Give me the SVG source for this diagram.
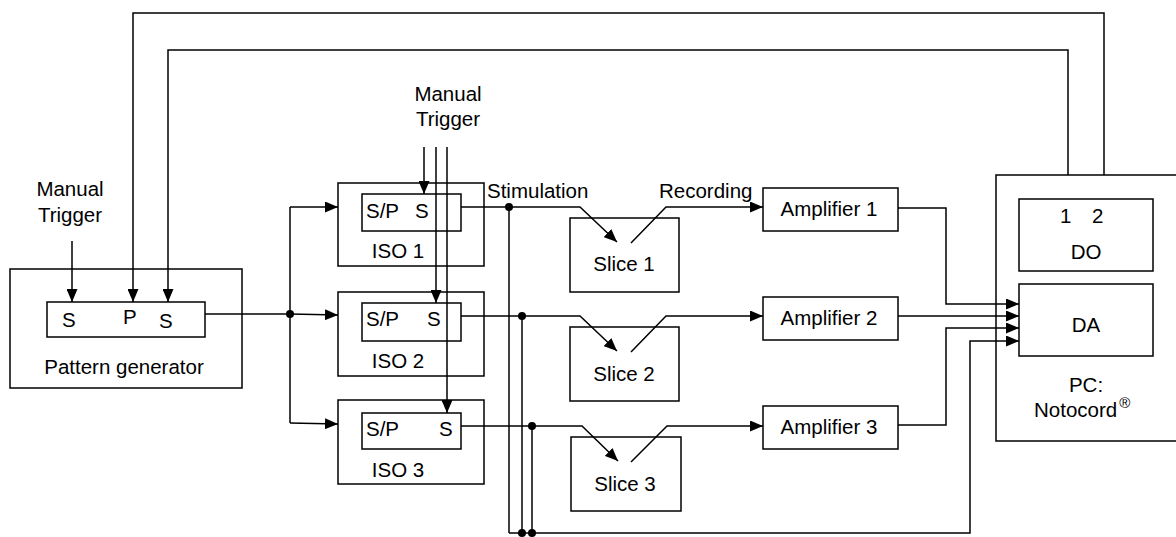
<svg xmlns="http://www.w3.org/2000/svg" width="1176" height="537" viewBox="0 0 1176 537">
<style>
.b{fill:#fff;stroke:#000;stroke-width:1.5}
.l{fill:none;stroke:#000;stroke-width:1.5}
.a{fill:none;stroke:#000;stroke-width:1.5;marker-end:url(#ar)}
text{font-family:"Liberation Sans",Arial,sans-serif;font-size:20.5px;fill:#000}
.m{text-anchor:middle}
</style>
<defs>
<marker id="ar" markerUnits="userSpaceOnUse" markerWidth="13" markerHeight="11" refX="13" refY="5.5" orient="auto">
<path d="M0,0 L13,5.5 L0,11 z" fill="#000"/>
</marker>
</defs>
<rect width="1176" height="537" fill="#fff"/>

<g id="pattern-generator">
<rect class="b" x="10" y="269" width="232" height="119"/>
<rect class="b" x="47" y="302" width="158" height="35"/>
<text x="62" y="327">S</text>
<text x="123" y="324">P</text>
<text x="159" y="328">S</text>
<text class="m" x="124" y="374">Pattern generator</text>
</g>

<g id="iso1">
<rect class="b" x="338" y="183" width="146" height="83"/>
<rect class="b" x="362" y="194" width="99" height="37"/>
<text x="366" y="218">S/P</text>
<text x="415" y="218">S</text>
<text class="m" x="398" y="258">ISO 1</text>
</g>
<g id="iso2">
<rect class="b" x="338" y="292" width="146" height="84"/>
<rect class="b" x="362" y="303" width="99" height="38"/>
<text x="366" y="326">S/P</text>
<text x="427" y="326">S</text>
<text class="m" x="398" y="368">ISO 2</text>
</g>
<g id="iso3">
<rect class="b" x="338" y="400" width="146" height="84"/>
<rect class="b" x="362" y="413" width="99" height="36"/>
<text x="366" y="436">S/P</text>
<text x="439" y="436">S</text>
<text class="m" x="398" y="477">ISO 3</text>
</g>

<g id="slice1"><rect class="b" x="570" y="218" width="109" height="74"/><text class="m" x="624" y="271">Slice 1</text></g>
<g id="slice2"><rect class="b" x="570" y="327" width="109" height="74"/><text class="m" x="624" y="381">Slice 2</text></g>
<g id="slice3"><rect class="b" x="571" y="437" width="110" height="74"/><text class="m" x="625" y="491">Slice 3</text></g>

<g id="amp1"><rect class="b" x="763" y="188" width="135" height="43"/><text class="m" x="829" y="216">Amplifier 1</text></g>
<g id="amp2"><rect class="b" x="763" y="297" width="135" height="43"/><text class="m" x="829" y="325">Amplifier 2</text></g>
<g id="amp3"><rect class="b" x="763" y="406" width="135" height="43"/><text class="m" x="829" y="434">Amplifier 3</text></g>

<g id="pc">
<path class="b" d="M1180,175 H996 V441 H1180"/>
<rect class="b" x="1019" y="199" width="134" height="72"/>
<text x="1060" y="223">1</text>
<text x="1092" y="223">2</text>
<text class="m" x="1086" y="259">DO</text>
<rect class="b" x="1019" y="284" width="134" height="72"/>
<text class="m" x="1086" y="332">DA</text>
<text class="m" x="1086" y="392">PC:</text>
<text x="1034" y="417">Notocord<tspan font-size="15" dx="2" dy="-9">®</tspan></text>
</g>

<g id="labels">
<text class="m" x="70" y="196">Manual</text>
<text class="m" x="70" y="222">Trigger</text>
<text class="m" x="448" y="101">Manual</text>
<text class="m" x="448" y="126">Trigger</text>
<text x="487" y="198">Stimulation</text>
<text x="659" y="198">Recording</text>
</g>

<g id="connectors">
<path class="a" d="M1104,175 V13 H133 V302"/>
<path class="a" d="M1068,175 V50 H168 V302"/>
<path class="a" d="M72,241 V302"/>
<path class="a" d="M424,147 V194"/>
<path class="a" d="M436,147 V303"/>
<path class="a" d="M447,147 V413"/>
<path class="l" d="M205,314 H290"/>
<path class="l" d="M290,207 V423"/>
<path class="a" d="M290,207 H338"/>
<path class="a" d="M290,314 L338,315"/>
<path class="a" d="M290,423 L338,424"/>
<path class="a" d="M461,207 H580 L617,242"/>
<path class="a" d="M461,316 H580 L617,351"/>
<path class="a" d="M461,426 H582 L618,461"/>
<path class="a" d="M631,243 L666,207 H763"/>
<path class="a" d="M631,352 L666,316 H763"/>
<path class="a" d="M631,462 L667,426 H763"/>
<path class="l" d="M509,207 V533"/>
<path class="l" d="M522,316 V533"/>
<path class="l" d="M532,426 V533"/>
<path class="a" d="M509,533 H970 V341 H1019"/>
<path class="a" d="M898,208 H946 V304 H1019"/>
<path class="a" d="M898,316 H1019"/>
<path class="a" d="M898,425 H946 V328 H1019"/>
<circle cx="290" cy="314" r="4"/>
<circle cx="509" cy="207" r="4"/>
<circle cx="522" cy="316" r="4"/>
<circle cx="532" cy="426" r="4"/>
<circle cx="522" cy="533" r="4"/>
<circle cx="532" cy="533" r="4"/>
</g>
</svg>
